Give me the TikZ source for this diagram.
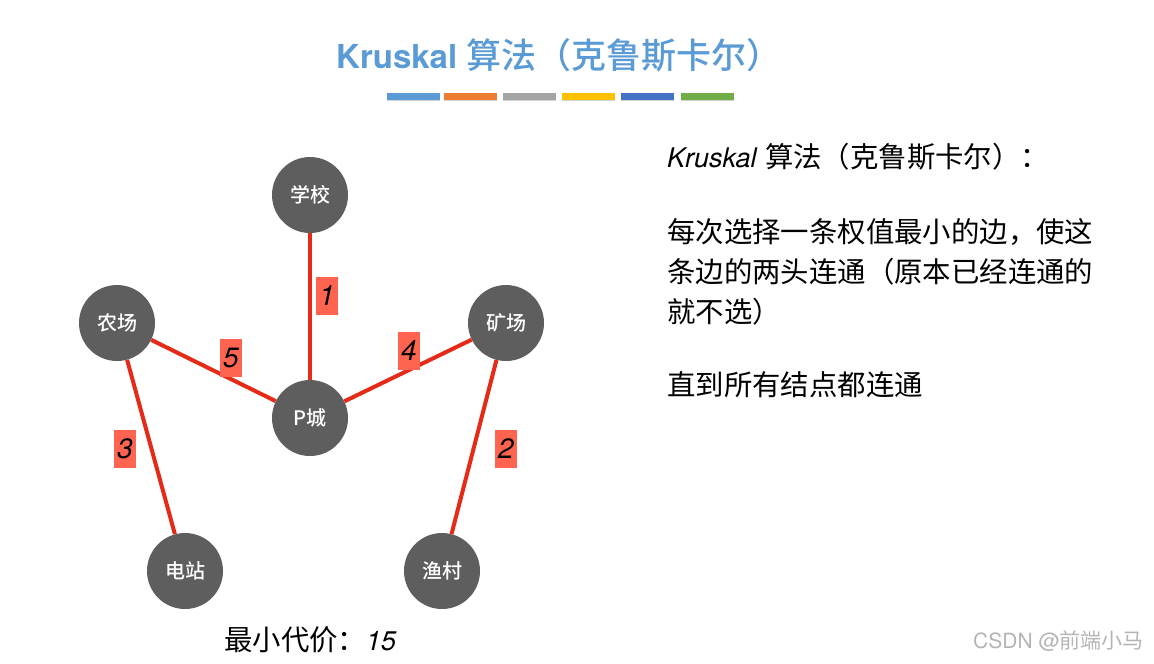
\documentclass[tikz,border=0pt]{standalone}
\usepackage{fontspec}
\setmainfont{TeX Gyre Heros}
\newfontfamily\cjk{Noto Sans CJK SC}
\newfontfamily\cjkm{Noto Sans CJK SC Medium}
\usepackage{xcolor}
\usetikzlibrary{shadows}
\definecolor{titleblue}{HTML}{5B9BD5}
\definecolor{nodegray}{HTML}{5E5E5E}
\definecolor{roadred}{HTML}{E62A18}
\definecolor{weightred}{HTML}{FF6450}
\definecolor{barone}{HTML}{5B9BD5}
\definecolor{bartwo}{HTML}{ED7D31}
\definecolor{barthree}{HTML}{A5A5A5}
\definecolor{barfour}{HTML}{FFC000}
\definecolor{barfive}{HTML}{4472C4}
\definecolor{barsix}{HTML}{70AD47}
\definecolor{markgray}{HTML}{B4B4B4}

\begin{document}
\begin{tikzpicture}[x=1pt, y=-1pt,
    city/.style={circle, fill=nodegray, minimum size=76pt, inner sep=0pt, text=white,
        font=\fontsize{20}{24}\selectfont\cjkm},
    road/.style={draw=roadred, line width=4pt},
    weight/.style={fill=weightred, minimum width=22pt, minimum height=38pt, inner sep=0pt,
        font=\fontsize{28}{30}\selectfont\itshape},
    body/.style={anchor=base west, inner sep=0pt, font=\fontsize{27}{40}\selectfont}]
    \useasboundingbox (0,0) rectangle (1154,664);

    % Titre
    \node[anchor=base west, inner sep=0pt, text=titleblue, font=\fontsize{33}{40}\selectfont\bfseries] (title) at (336,68)
        {Kruskal {\fontsize{35}{40}\selectfont\mdseries\cjkm 算法（克鲁斯卡尔）}};
    \foreach \x/\c in {387/barone, 444/bartwo, 503/barthree, 562/barfour, 621/barfive, 681/barsix} {
        \fill[\c, drop shadow={shadow xshift=0pt, shadow yshift=-1.5pt, opacity=.35}] (\x,93) rectangle ++(53,6.5);
    }

    % Villes
    \foreach \x/\y/\name/\txt in {310/195/school/学校, 117/323/farm/农场, 506/323/mine/矿场,
                                  310/418/pcity/P城, 185/571/power/电站, 442/571/fish/渔村} {
        \node[city] (\name) at (\x,\y) {\txt};
    }

    % Arêtes retenues
    \draw[road] (school) -- (pcity);
    \draw[road] (farm) -- (pcity);
    \draw[road] (mine) -- (pcity);
    \draw[road] (farm) -- (power);
    \draw[road] (mine) -- (fish);

    % Poids
    \foreach \x/\y/\w in {327/296/1, 506/449/2, 125/449/3, 409/351/4, 231/358/5} {
        \node[weight] (w\w) at (\x,\y) {\w};
    }

    % Coût total
    \node[body] (cost) at (224,650) {{\fontsize{28.4}{40}\selectfont\cjk 最小代价：}\textit{15}};

    % Explication
    \node[body] (head) at (667,167) {\textit{Kruskal} {\fontsize{28.4}{40}\selectfont\cjk 算法（克鲁斯卡尔）：}};
    \node[body] (rule1) at (667,242) {\fontsize{28.4}{40}\selectfont\cjk 每次选择一条权值最小的边，使这};
    \node[body] (rule2) at (667,282) {\fontsize{28.4}{40}\selectfont\cjk 条边的两头连通（原本已经连通的};
    \node[body] (rule3) at (667,322) {\fontsize{28.4}{40}\selectfont\cjk 就不选）};
    \node[body] (stop) at (667,395) {\fontsize{28.4}{40}\selectfont\cjk 直到所有结点都连通};

    % Filigrane
    \node[anchor=base west, inner sep=0pt, text=markgray, font=\fontsize{21}{24}\selectfont] (mark) at (973,648)
        {CSDN @{\cjk 前端小马}};
\end{tikzpicture}
\end{document}
